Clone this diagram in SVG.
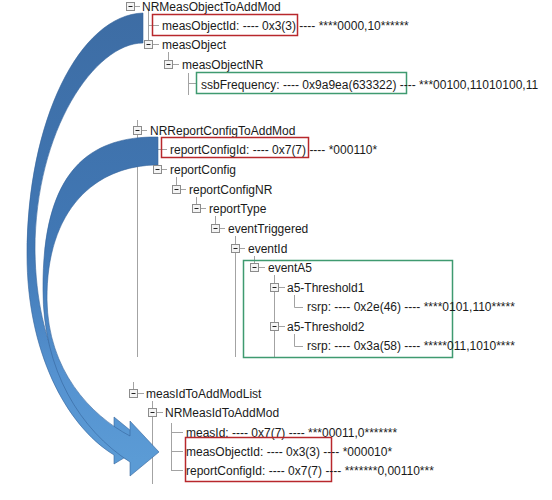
<svg xmlns="http://www.w3.org/2000/svg" xmlns:xlink="http://www.w3.org/1999/xlink" width="552" height="500" viewBox="0 0 552 500">
<style>
  text { font-family: "Liberation Sans", Arial, sans-serif; font-size: 12px; fill: #1a1a1a; }
  .tl { stroke: #a3a3a3; stroke-width: 1; fill: none; }
  .red { fill: none; stroke: #b8282c; stroke-width: 1.5; }
  .green { fill: none; stroke: #3f9a70; stroke-width: 1.5; }
  .arrow { fill: url(#blue); stroke: #35659c; stroke-width: 0.6; }
</style>
<defs>
  <linearGradient id="blue" gradientUnits="userSpaceOnUse" x1="0" y1="0" x2="0" y2="500">
    <stop offset="0" stop-color="#3d6ca3"/>
    <stop offset="0.5" stop-color="#4178b5"/>
    <stop offset="0.75" stop-color="#5592d0"/>
    <stop offset="0.92" stop-color="#5b9bd5"/>
  </linearGradient>
  <g id="minus">
    <rect x="0.5" y="0.5" width="8" height="8" fill="#f4f4f4" stroke="#8c8c8c"/>
    <line x1="2.5" y1="4.5" x2="6.5" y2="4.5" stroke="#222"/>
  </g>
</defs>
<rect width="552" height="500" fill="#ffffff"/>

<g id="tree-lines" class="tl">
  <path d="M135,6.5H140 M148.5,11V40 M148.5,25.5H159 M153,44.5H159 M168.5,52V60 M173,64.5H179 M188.5,73V95 M188.5,83.5H196"/>
  <path d="M137.5,120V126 M142,130.5H147 M137.5,135V357 M157.5,137V165 M157.5,149.5H167 M162,169.5H167"/>
  <path d="M176.5,177V185 M181,189.5H186 M196.5,197V204 M201,208.5H206 M215.5,216V224 M220,228.5H225 M235.5,236V244 M240,248.5H245 M235.5,253V357"/>
  <path d="M254.5,256V263 M259,267.5H265 M274.5,275V357 M279,287.5H285 M279,326.5H285 M294.5,295V307.5H303 M294.5,334V346.5H303"/>
  <path d="M133.5,382V389 M138,393.5H144 M152.5,401V408 M157,412.5H163 M152.5,417V484 M171.5,423V471 M171.5,432.5H183 M171.5,451.5H183 M171.5,470.5H183"/>
</g>

<g id="connectors">
  <path id="arrow-measObjectId" class="arrow" d="M143,13 C80,15 27,120 27,255 C27,350 65,425 114,455 L114,464 L147,444 L114,417 L114,428 C75,410 36,350 35,250 C35,130 95,43 143,43 Z"/>
  <path id="arrow-reportConfigId" class="arrow" d="M158,137 C90,136 42,170 43,290 C43,370 80,430 130,462 L130,476 L159,452 L130,421 L130,436 C90,415 48,370 47,300 C46,210 95,165 158,165 Z"/>
</g>

<g id="n-NRMeasObjectToAddMod"><use xlink:href="#minus" x="126" y="2"/><text x="142" y="10.5">NRMeasObjectToAddMod</text></g>
<g id="n-measObjectId-1"><rect class="red" x="152.5" y="14.5" width="145" height="21"/><text x="162" y="29.5">measObjectId: ---- 0x3(3) ---- ****0000,10******</text></g>
<g id="n-measObject"><use xlink:href="#minus" x="144" y="40"/><text x="162" y="49">measObject</text></g>
<g id="n-measObjectNR"><use xlink:href="#minus" x="164" y="60"/><text x="182" y="69">measObjectNR</text></g>
<g id="n-ssbFrequency"><rect class="green" x="196.5" y="72.5" width="210" height="21"/><text x="201" y="88.5">ssbFrequency: ---- 0x9a9ea(633322) ---- ***00100,11010100,11</text></g>

<g id="n-NRReportConfigToAddMod"><use xlink:href="#minus" x="133" y="126"/><text x="150" y="135">NRReportConfigToAddMod</text></g>
<g id="n-reportConfigId-1"><rect class="red" x="161.5" y="137.5" width="147" height="20"/><text x="170" y="154">reportConfigId: ---- 0x7(7) ---- *000110*</text></g>
<g id="n-reportConfig"><use xlink:href="#minus" x="153" y="165"/><text x="170" y="174">reportConfig</text></g>
<g id="n-reportConfigNR"><use xlink:href="#minus" x="172" y="185"/><text x="189" y="194">reportConfigNR</text></g>
<g id="n-reportType"><use xlink:href="#minus" x="192" y="204"/><text x="209" y="213">reportType</text></g>
<g id="n-eventTriggered"><use xlink:href="#minus" x="211" y="224"/><text x="228" y="233">eventTriggered</text></g>
<g id="n-eventId"><use xlink:href="#minus" x="231" y="244"/><text x="248" y="253">eventId</text></g>
<g id="n-eventA5"><rect class="green" x="243.5" y="260.5" width="209" height="97"/><use xlink:href="#minus" x="250" y="263"/><text x="268" y="272">eventA5</text></g>
<g id="n-a5-Threshold1"><use xlink:href="#minus" x="270" y="283"/><text x="287" y="292">a5-Threshold1</text></g>
<g id="n-rsrp-1"><text x="307" y="311">rsrp: ---- 0x2e(46) ---- ****0101,110*****</text></g>
<g id="n-a5-Threshold2"><use xlink:href="#minus" x="270" y="322"/><text x="287" y="331">a5-Threshold2</text></g>
<g id="n-rsrp-2"><text x="307" y="350">rsrp: ---- 0x3a(58) ---- *****011,1010****</text></g>

<g id="n-measIdToAddModList"><use xlink:href="#minus" x="129" y="389"/><text x="146" y="398">measIdToAddModList</text></g>
<g id="n-NRMeasIdToAddMod"><use xlink:href="#minus" x="148" y="408"/><text x="165" y="417">NRMeasIdToAddMod</text></g>
<g id="n-measId"><text x="186" y="437">measId: ---- 0x7(7) ---- ***00011,0*******</text></g>
<g id="n-measId-refs"><rect class="red" x="185.5" y="437.5" width="146" height="44"/>
  <text x="186" y="456">measObjectId: ---- 0x3(3) ---- *000010*</text>
  <text x="186" y="475">reportConfigId: ---- 0x7(7) ---- *******0,00110***</text></g>
</svg>
